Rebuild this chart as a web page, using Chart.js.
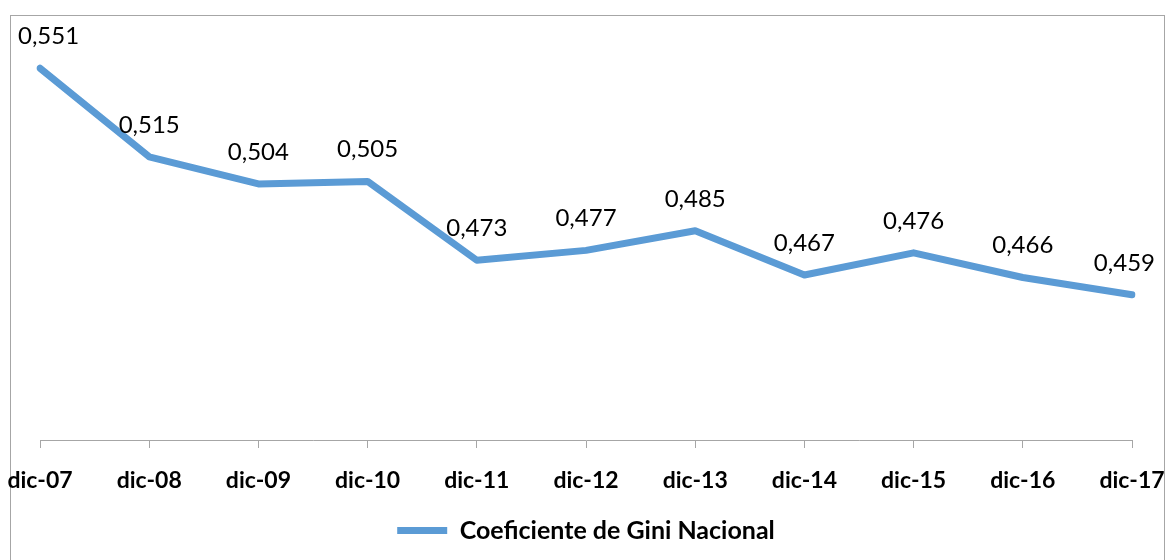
<!DOCTYPE html>
<html>
<head>
<meta charset="utf-8">
<script src="https://cdn.jsdelivr.net/npm/chart.js@4.4.1/dist/chart.umd.min.js"></script>
<style>
  html, body { margin: 0; padding: 0; background: #fff; overflow: hidden; }
  #marco { position: absolute; left: 10px; top: 15px; width: 1155px; height: 600px; border: 1px solid #a6a6a6; box-sizing: border-box; }
  #grafico { position: absolute; left: 0; top: 0; }
</style>
</head>
<body>
<div id="marco"></div>
<canvas id="grafico" width="1166" height="560"></canvas>
<script>
// Datos
const periodos = ['dic-07', 'dic-08', 'dic-09', 'dic-10', 'dic-11', 'dic-12', 'dic-13', 'dic-14', 'dic-15', 'dic-16', 'dic-17'];
const giniNacional = [0.551, 0.515, 0.504, 0.505, 0.473, 0.477, 0.485, 0.467, 0.476, 0.466, 0.459];
const nombreSerie = 'Coeficiente de Gini Nacional';

const azul = '#5b9bd5';

// Etiquetas de valor encima de cada punto (coma decimal), sin salirse del marco
const etiquetasValor = {
    id: 'etiquetasValor',
    afterDatasetsDraw(chart) {
        const ctx = chart.ctx;
        const meta = chart.getDatasetMeta(0);
        ctx.save();
        ctx.font = '24px Lato, "Open Sans", sans-serif';
        ctx.fillStyle = '#000';
        ctx.textAlign = 'center';
        ctx.textBaseline = 'alphabetic';
        meta.data.forEach((p, i) => {
            const texto = giniNacional[i].toFixed(3).replace('.', ',');
            const w = ctx.measureText(texto).width;
            let x = Math.max(p.x, 18 + w / 2);
            x = Math.min(x, 1155 - w / 2);
            ctx.fillText(texto, x, p.y - 24);
        });
        ctx.restore();
    }
};

new Chart(document.getElementById('grafico').getContext('2d'), {
    type: 'line',
    data: {
        labels: periodos,
        datasets: [{
            label: nombreSerie,
            data: giniNacional,
            borderColor: azul,
            backgroundColor: azul,
            borderWidth: 7,
            borderCapStyle: 'round',
            borderJoinStyle: 'round',
            pointRadius: 0,
            tension: 0,
            fill: false
        }]
    },
    options: {
        responsive: false,
        devicePixelRatio: 1,
        animation: false,
        layout: { padding: { left: 40, right: 34, top: 46, bottom: 7 } },
        plugins: {
            legend: {
                position: 'bottom',
                labels: {
                    usePointStyle: true,
                    pointStyle: 'line',
                    pointStyleWidth: 50,
                    boxHeight: 24,
                    color: '#000',
                    font: { family: 'Lato, "Open Sans", sans-serif', size: 25, weight: 'bold' }
                }
            },
            tooltip: { enabled: false }
        },
        scales: {
            x: {
                offset: false,
                grid: { display: true, drawOnChartArea: false, tickLength: 8, color: '#a6a6a6' },
                border: { display: true, color: '#a6a6a6', width: 1 },
                ticks: {
                    color: '#000',
                    padding: 19,
                    maxRotation: 0,
                    autoSkip: false,
                    font: { family: 'Lato, "Open Sans", sans-serif', size: 23, weight: 'bold' }
                },
                afterFit(scale) {
                    scale.height = 68;
                    scale.paddingLeft = 0;
                    scale.paddingRight = 0;
                }
            },
            y: {
                display: false,
                min: 0.4,
                max: 0.56
            }
        }
    },
    plugins: [etiquetasValor]
});
</script>
</body>
</html>
